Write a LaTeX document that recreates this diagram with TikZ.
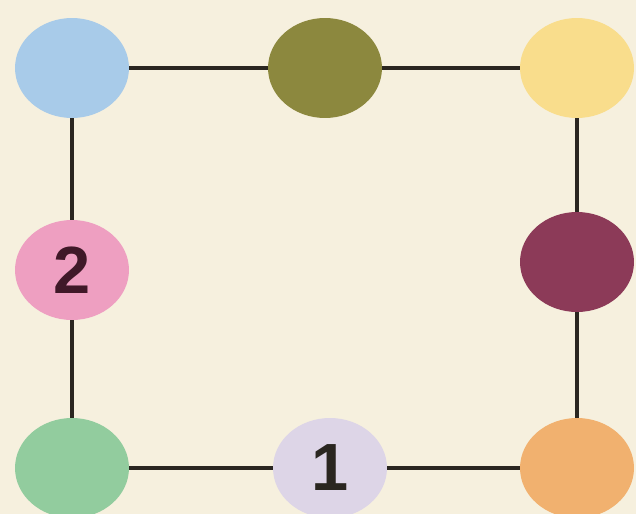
\documentclass[tikz,border=0pt]{standalone}
\usepackage{fontspec}
\setsansfont{Liberation Sans}
\usepackage{xcolor}
\usepackage{tikz}
\usetikzlibrary{
  positioning,
  shapes.geometric
}
\definecolor{paper}{HTML}{F6F0DE}
\definecolor{sky}{HTML}{A8CBE9}
\definecolor{olive}{HTML}{8C883E}
\definecolor{butter}{HTML}{F9DD8C}
\definecolor{wine}{HTML}{8C3A58}
\definecolor{peach}{HTML}{F1B16F}
\definecolor{lilac}{HTML}{DDD5E7}
\definecolor{mint}{HTML}{92CC9E}
\definecolor{rose}{HTML}{EE9FC1}
\definecolor{ink}{HTML}{2A2620}
\definecolor{plum}{HTML}{401828}
\tikzset{
  spot/.style={ellipse,minimum width=2.28cm,minimum height=2.0cm,inner sep=0pt,
    font=\sffamily\bfseries\fontsize{38}{38}\selectfont},
  link/.style={draw=ink,line width=2.3pt}
}

\begin{document}
\begin{tikzpicture}[x=0.02cm,y=-0.02cm]
    \fill[paper] (0,0) rectangle (636,514);
    \useasboundingbox (0,0) rectangle (636,514);
    \foreach \x/\y/\col/\id in {72/68/sky/tl,325/68/olive/tm,577/68/butter/tr,577/262/wine/rm,
                                577/468/peach/br,72/468/mint/bl}
        \node[spot,fill=\col] (\id) at (\x,\y) {};
    \node[spot,fill=lilac,text=ink] (bm) at (330,468) {1};
    \node[spot,fill=rose,text=plum] (lm) at (72,270) {2};

    \draw[link] (tl) -- (tm);
    \draw[link] (tm) -- (tr);
    \draw[link] (tr) -- (rm);
    \draw[link] (rm) -- (br);
    \draw[link] (br) -- (bm);
    \draw[link] (bm) -- (bl);
    \draw[link] (bl) -- (lm);
    \draw[link] (lm) -- (tl);
\end{tikzpicture}
\end{document}
